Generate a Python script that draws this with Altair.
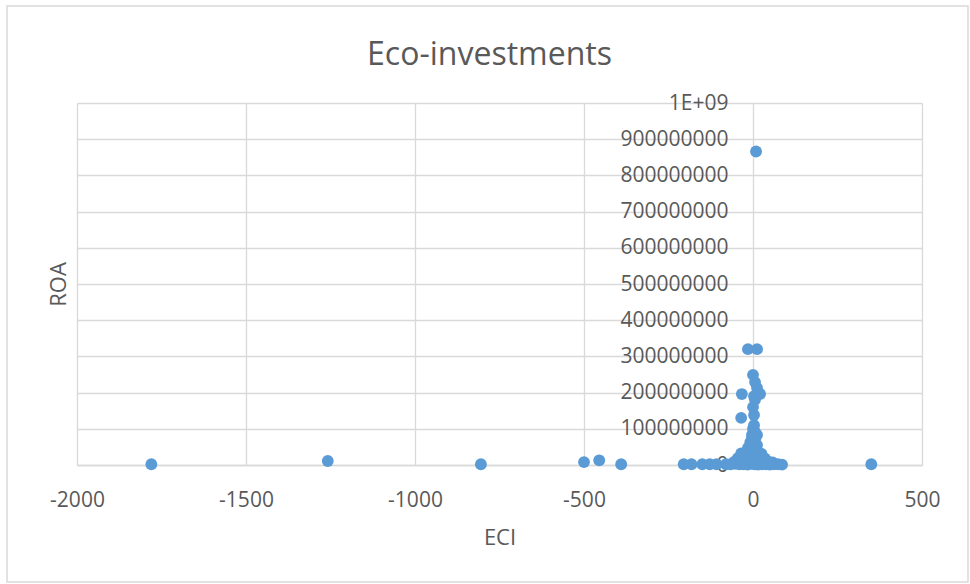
import altair as alt
import pandas as pd

# ECI (x) and ROA (y) observations
eci = [
    -1780, -1258, -805, -500, -455, -390, 350,
    -205, -182, -150, -128, -108,
    -80, -66, -52, -40, -28, -16, -5, 5, 15, 26, 38, 50, 62, 74, 86,
    -55, -40, -25, -10, 4, 18, 32, 46, 58,
    -45, -28, -12, 5, 20, 35,
    -35, -18, 0, 14, 25,
    -15, 0, 12, -5,
    -8, 6,
    -3, -3, 12, 6, 0, 3,
    3, -35, 0, 6, 3, -33, 21, 12, 6, 0,
    -15, 12, 9,
]
roa = [
    2e6, 11e6, 2e6, 8e6, 13e6, 2e6, 2e6,
    2e6, 2e6, 2e6, 2e6, 2e6,
    2e6, 2e6, 3e6, 2e6, 2e6, 1e6, 3e6, 2e6, 1e6, 2e6, 2e6, 1e6, 2e6, 2e6, 1e6,
    9e6, 10e6, 8e6, 12e6, 10e6, 8e6, 11e6, 9e6, 7e6,
    19e6, 21e6, 23e6, 20e6, 22e6, 18e6,
    32e6, 35e6, 33e6, 37e6, 31e6,
    47e6, 52e6, 55e6, 60e6,
    63e6, 66e6,
    75e6, 83e6, 83e6, 91e6, 100e6, 110e6,
    138e6, 130e6, 160e6, 180e6, 190e6, 196e6, 196e6, 213e6, 229e6, 249e6,
    320e6, 320e6, 866e6,
]

x_ticks = [-2000, -1500, -1000, -500, 0, 500]
y_ticks = [0, 1e8, 2e8, 3e8, 4e8, 5e8, 6e8, 7e8, 8e8, 9e8, 1e9]

df = pd.DataFrame({"ECI": eci, "ROA": roa})

FONT = "Open Sans"
TEXT = "#595959"
GRID = "#d9d9d9"

points = alt.Chart(df).mark_circle(size=140, color="#5b9bd5", opacity=1).encode(
    x=alt.X(
        "ECI:Q",
        scale=alt.Scale(domain=[-2000, 500], nice=False, zero=False),
        axis=alt.Axis(
            values=x_ticks,
            grid=True,
            gridColor=GRID,
            gridWidth=1.3,
            domain=True,
            domainColor=GRID,
            domainWidth=1.5,
            ticks=False,
            tickSize=0,
            labelFont=FONT,
            labelFontSize=21,
            labelColor=TEXT,
            labelPadding=24,
            labelFlush=False,
            labelOverlap=False,
            labelExpr="'' + datum.value",
            title="ECI",
            titleFont=FONT,
            titleFontSize=22,
            titleFontWeight="normal",
            titleColor=TEXT,
            titleBaseline="alphabetic",
            titleY=79,
        ),
    ),
    y=alt.Y(
        "ROA:Q",
        scale=alt.Scale(domain=[0, 1e9], nice=False),
        axis=alt.Axis(
            values=y_ticks,
            offset=-676,
            grid=True,
            gridColor=GRID,
            gridWidth=1.3,
            domain=False,
            ticks=False,
            tickSize=0,
            labelFont=FONT,
            labelFontSize=21,
            labelColor=TEXT,
            labelPadding=25,
            labelOverlap=False,
            labelExpr="datum.value >= 1e9 ? '1E+09' : format(datum.value, 'd')",
            title="ROA",
            titleFont=FONT,
            titleFontSize=22,
            titleFontWeight="normal",
            titleColor=TEXT,
            titleAngle=-90,
            titleAlign="center",
            titleBaseline="alphabetic",
            titleX=-688,
            titleY=181,
        ),
    ),
)

# light frame around the whole chart
frame = alt.Chart(pd.DataFrame({"k": [0]})).mark_rect(
    fill="transparent", stroke=GRID, strokeWidth=1.5
).encode(
    x=alt.value(-70), x2=alt.value(891), y=alt.value(-97), y2=alt.value(479)
)

chart = (
    alt.layer(frame, points)
    .properties(
        width=845,
        height=362,
        title=alt.TitleParams(
            "Eco-investments",
            font=FONT,
            fontSize=32,
            fontWeight="normal",
            color=TEXT,
            anchor="middle",
            baseline="alphabetic",
            dx=-10,
            offset=-92,
        ),
        autosize=alt.AutoSizeParams(type="none"),
        padding={"left": 77, "top": 103, "right": 48, "bottom": 119},
        background="white",
    )
    .configure_view(stroke=None)
)

chart.save("out.html", embed_options={"renderer": "svg", "actions": False})
